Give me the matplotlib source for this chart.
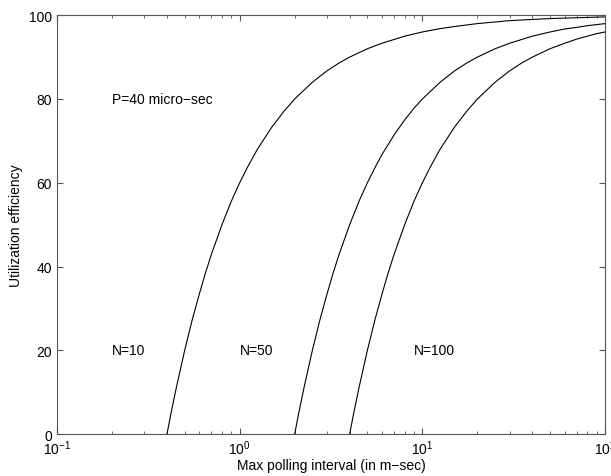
import matplotlib
matplotlib.use("Agg")
import matplotlib.pyplot as plt

plt.rcParams['font.family'] = ['Liberation Sans', 'DejaVu Sans']
plt.rcParams['mathtext.fontset'] = 'custom'
plt.rcParams['mathtext.rm'] = 'Liberation Sans'

# max polling interval (ms) vs utilization efficiency (%), P = 40 micro-sec
x_n10 = [0.4, 0.42, 0.45, 0.5, 0.55, 0.6, 0.65, 0.7, 0.8, 0.9, 1, 1.1, 1.25,
         1.5, 1.75, 2, 2.5, 3, 3.5, 4, 5, 6, 8, 10, 12.5, 15, 20, 30, 40, 50,
         70, 100]
y_n10 = [0, 4.8, 11.1, 20, 27.3, 33.3, 38.5, 42.9, 50, 55.6, 60, 63.6, 68,
         73.3, 77.1, 80, 84, 86.7, 88.6, 90, 92, 93.3, 95, 96, 96.8, 97.3, 98,
         98.7, 99, 99.2, 99.4, 99.6]

x_n50 = [2, 2.1, 2.25, 2.5, 2.75, 3, 3.25, 3.5, 4, 4.5, 5, 5.5, 6, 7, 8, 9,
         10, 12.5, 15, 17.5, 20, 25, 30, 40, 50, 60, 70, 80, 100]
y_n50 = [0, 4.8, 11.1, 20, 27.3, 33.3, 38.5, 42.9, 50, 55.6, 60, 63.6, 66.7,
         71.4, 75, 77.8, 80, 84, 86.7, 88.6, 90, 92, 93.3, 95, 96, 96.7, 97.1,
         97.5, 98]

x_n100 = [4, 4.2, 4.5, 5, 5.5, 6, 6.5, 7, 8, 9, 10, 11, 12.5, 15, 17.5, 20,
          25, 30, 35, 40, 50, 60, 70, 80, 90, 100]
y_n100 = [0, 4.8, 11.1, 20, 27.3, 33.3, 38.5, 42.9, 50, 55.6, 60, 63.6, 68,
          73.3, 77.1, 80, 84, 86.7, 88.6, 90, 92, 93.3, 94.3, 95, 95.6, 96]

curve_labels = ["N=10", "N=50", "N=100"]
label_x = [0.2, 1.0, 9.0]

fig = plt.figure(figsize=(6.11, 4.77), dpi=100)
ax = fig.add_axes([0.0933, 0.088, 0.897, 0.878])

for xs, ys in [(x_n10, y_n10), (x_n50, y_n50), (x_n100, y_n100)]:
    ax.plot(xs, ys, color="black", lw=0.8)

ax.set_xscale("log")
ax.set_xlim(0.1, 100)
ax.set_ylim(0, 100)
ax.set_yticks([0, 20, 40, 60, 80, 100])

ax.tick_params(which="both", direction="in", top=True, right=True,
               labelsize=10, color="#555555")
ax.tick_params(which="major", length=4)
ax.tick_params(which="minor", length=2)
ax.tick_params(axis="x", pad=3)
for s in ax.spines.values():
    s.set_color("#555555")
    s.set_linewidth(0.8)

ax.text(0.2, 80, "P=40 micro\u2212sec", fontsize=10, va="center")
for lab, lx in zip(curve_labels, label_x):
    ax.text(lx, 20, lab, fontsize=10, va="center")

ax.set_xlabel("Max polling interval (in m\u2212sec)", fontsize=10)
ax.xaxis.set_label_coords(0.5, -0.058)
ax.set_ylabel("Utilization efficiency", fontsize=10, labelpad=4)

fig.savefig("out.png", dpi=100)
